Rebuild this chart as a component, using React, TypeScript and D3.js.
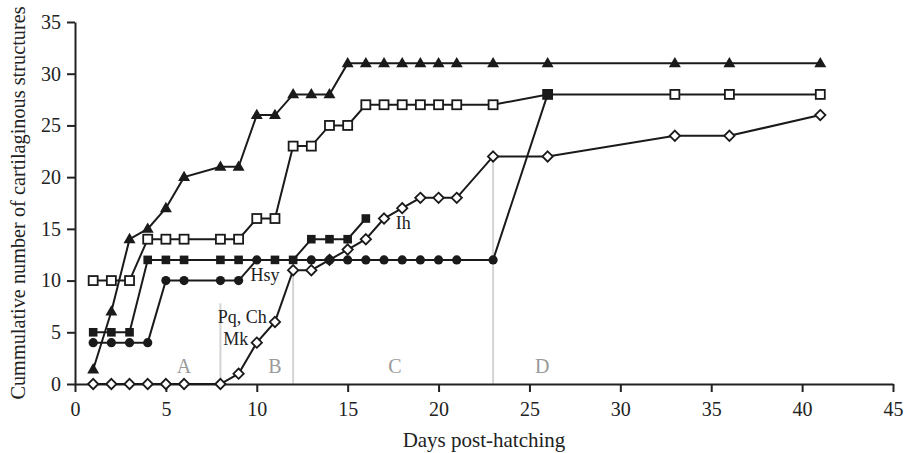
import { useEffect, useRef } from 'react';
import * as d3 from 'd3';

// Days sampled for the long series
const days = [1, 2, 3, 4, 5, 6, 8, 9, 10, 11, 12, 13, 14, 15, 16, 17, 18, 19, 20, 21, 23, 26, 33, 36, 41];

// Open diamonds
const diamondValues = [0, 0, 0, 0, 0, 0, 0, 1, 4, 6, 11, 11, 12, 13, 14, 16, 17, 18, 18, 18, 22, 22, 24, 24, 26];
// Open squares
const openSquareValues = [10, 10, 10, 14, 14, 14, 14, 14, 16, 16, 23, 23, 25, 25, 27, 27, 27, 27, 27, 27, 27, 28, 28, 28, 28];
// Filled triangles
const triangleValues = [1.4, 7, 14, 15, 17, 20, 21, 21, 26, 26, 28, 28, 28, 31, 31, 31, 31, 31, 31, 31, 31, 31, 31, 31, 31];

// Filled circles (own days)
const circleDays = [1, 2, 3, 4, 5, 6, 8, 9, 10, 13, 14, 15, 16, 17, 18, 19, 20, 21, 23, 26];
const circleValues = [4, 4, 4, 4, 10, 10, 10, 10, 12, 12, 12, 12, 12, 12, 12, 12, 12, 12, 12, 28];

// Filled squares (own days, null = break in the line)
const filledSquareDays = [1, 2, 3, 4, 5, 6, 8, 9, 11, 12, 13, 14, 15, 16, 17, 26];
const filledSquareValues = [5, 5, 5, 12, 12, 12, 12, 12, 12, 12, 14, 14, 14, 16, null, 28];

// Phase boundaries (grey lines) and phase letters
const phaseDays = [8, 12, 23];
const phaseTops = [7.8, 11, 22];
const phaseLetters = ['A', 'B', 'C', 'D'];
const phaseLetterDays = [6, 11, 17.6, 25.7];

// Structure annotations
const noteTexts = ['Hsy', 'Pq, Ch', 'Mk', 'Ih'];
const noteDays = [9.65, 7.85, 8.15, 17.65];
const noteValues = [10, 5.9, 3.75, 14.95];

const xTicks = d3.range(0, 46, 5);
const yTicks = d3.range(0, 36, 5);

const FONT = '"Liberation Serif", "Times New Roman", serif';

export default function App() {
  const svgRef = useRef<SVGSVGElement>(null);

  useEffect(() => {
    if (!svgRef.current) return;
    const svg = d3.select(svgRef.current);
    svg.selectAll('*').remove();

    const width = 904;
    const height = 453;
    const margin = { top: 22, right: 11, bottom: 69, left: 75 };

    const x = d3.scaleLinear().domain([0, 45]).range([margin.left, width - margin.right]);
    const y = d3.scaleLinear().domain([0, 35]).range([height - margin.bottom, margin.top]);

    const g = svg.append('g').style('font-family', FONT);

    // grey phase lines
    g.selectAll('line.phase')
      .data(phaseDays)
      .enter()
      .append('line')
      .attr('x1', d => x(d))
      .attr('x2', d => x(d))
      .attr('y1', y(0))
      .attr('y2', (d, i) => y(phaseTops[i]))
      .attr('stroke', '#d4d4d4')
      .attr('stroke-width', 2);

    g.selectAll('text.phase')
      .data(phaseLetters)
      .enter()
      .append('text')
      .attr('x', (d, i) => x(phaseLetterDays[i]))
      .attr('y', y(1.05))
      .attr('text-anchor', 'middle')
      .attr('fill', '#9a9a9a')
      .style('font-size', '20px')
      .text(d => d);

    // axes
    const xAxis = g.append('g')
      .attr('transform', `translate(0,${y(0)})`)
      .call(d3.axisBottom(x).tickValues(xTicks).tickSize(8).tickPadding(10).tickSizeOuter(0));
    xAxis.select('.domain').attr('stroke', '#222').attr('stroke-width', 2);
    xAxis.selectAll('.tick line').attr('stroke', '#222').attr('stroke-width', 2);
    xAxis.selectAll('text').style('font-size', '20px').style('font-family', FONT).attr('fill', '#222');

    const yAxis = g.append('g')
      .attr('transform', `translate(${x(0)},0)`)
      .call(d3.axisLeft(y).tickValues(yTicks).tickSize(8).tickPadding(6).tickSizeOuter(0));
    yAxis.select('.domain').attr('stroke', '#222').attr('stroke-width', 2);
    yAxis.selectAll('.tick line').attr('stroke', '#222').attr('stroke-width', 2);
    yAxis.selectAll('text').style('font-size', '20px').style('font-family', FONT).attr('fill', '#222');

    // axis titles
    g.append('text')
      .attr('x', (x(0) + x(45)) / 2)
      .attr('y', 447)
      .attr('text-anchor', 'middle')
      .attr('fill', '#222')
      .style('font-size', '21px')
      .text('Days post-hatching');

    g.append('text')
      .attr('transform', `translate(25,203) rotate(-90)`)
      .attr('text-anchor', 'middle')
      .attr('fill', '#222')
      .style('font-size', '20.3px')
      .text('Cummulative number of cartilaginous structures');

    // series helpers
    const line = d3.line<[number, number | null]>()
      .defined(d => d[1] != null)
      .x(d => x(d[0]))
      .y(d => y(d[1] as number));

    const drawLine = (xs: number[], vs: (number | null)[]) => {
      const pts = xs.map((d, i) => [d, vs[i]] as [number, number | null]);
      g.append('path')
        .datum(pts)
        .attr('d', line)
        .attr('fill', 'none')
        .attr('stroke', '#1a1a1a')
        .attr('stroke-width', 2);
      return pts.filter(p => p[1] != null) as [number, number][];
    };

    // diamonds
    const dPts = drawLine(days, diamondValues);
    g.selectAll('path.diamond')
      .data(dPts)
      .enter()
      .append('path')
      .attr('d', d3.symbol(d3.symbolDiamond2, 68)())
      .attr('transform', d => `translate(${x(d[0])},${y(d[1])})`)
      .attr('fill', '#fff')
      .attr('stroke', '#1a1a1a')
      .attr('stroke-width', 1.8);

    // open squares
    const osPts = drawLine(days, openSquareValues);
    g.selectAll('rect.open')
      .data(osPts)
      .enter()
      .append('rect')
      .attr('x', d => x(d[0]) - 4.5)
      .attr('y', d => y(d[1]) - 4.5)
      .attr('width', 9)
      .attr('height', 9)
      .attr('fill', '#fff')
      .attr('stroke', '#1a1a1a')
      .attr('stroke-width', 1.8);

    // circles
    const cPts = drawLine(circleDays, circleValues);
    g.selectAll('circle.c')
      .data(cPts)
      .enter()
      .append('circle')
      .attr('cx', d => x(d[0]))
      .attr('cy', d => y(d[1]))
      .attr('r', 4.6)
      .attr('fill', '#1a1a1a');

    // filled squares
    const fsPts = drawLine(filledSquareDays, filledSquareValues);
    g.selectAll('rect.filled')
      .data(fsPts)
      .enter()
      .append('rect')
      .attr('x', d => x(d[0]) - 4.3)
      .attr('y', d => y(d[1]) - 4.3)
      .attr('width', 8.6)
      .attr('height', 8.6)
      .attr('fill', '#1a1a1a');

    // triangles
    const tPts = drawLine(days, triangleValues);
    g.selectAll('path.tri')
      .data(tPts)
      .enter()
      .append('path')
      .attr('d', d3.symbol(d3.symbolTriangle, 62)())
      .attr('transform', d => `translate(${x(d[0])},${y(d[1]) + 0.5})`)
      .attr('fill', '#1a1a1a');

    // annotations
    g.selectAll('text.note')
      .data(noteTexts)
      .enter()
      .append('text')
      .attr('x', (d, i) => x(noteDays[i]))
      .attr('y', (d, i) => y(noteValues[i]))
      .attr('fill', '#222')
      .style('font-size', '18px')
      .text(d => d);
  }, []);

  return (
    <svg
      ref={svgRef}
      width={904}
      height={453}
      style={{ position: 'absolute', left: 0, top: 0, background: '#fff' }}
    />
  );
}
